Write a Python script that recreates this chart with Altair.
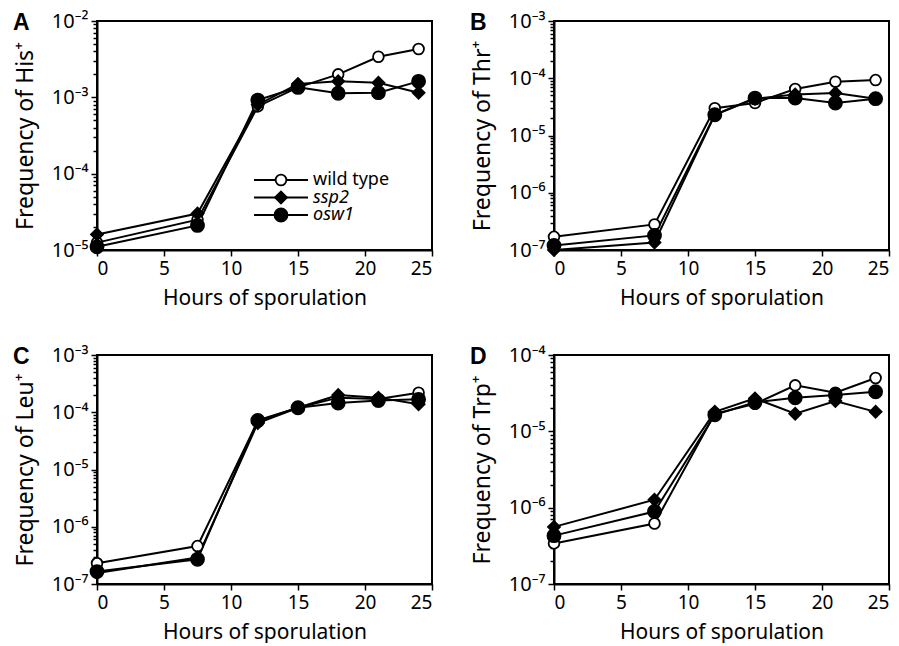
import altair as alt
import pandas as pd

hours = [0, 7.5, 12, 15, 18, 21, 24]
series_names = ["wild type", "ssp2", "osw1"]

# Panel A: His+
his_wt = [1.25e-5, 2.5e-5, 7.6e-4, 1.35e-3, 2.0e-3, 3.4e-3, 4.3e-3]
his_ssp2 = [1.6e-5, 3.0e-5, 8.0e-4, 1.5e-3, 1.62e-3, 1.55e-3, 1.15e-3]
his_osw1 = [1.1e-5, 2.1e-5, 9.2e-4, 1.35e-3, 1.13e-3, 1.15e-3, 1.62e-3]

# Panel B: Thr+
thr_wt = [1.7e-7, 2.8e-7, 3.0e-5, 3.7e-5, 6.5e-5, 8.7e-5, 9.3e-5]
thr_ssp2 = [1.0e-7, 1.35e-7, 2.3e-5, 4.4e-5, 5.2e-5, 5.5e-5, 4.4e-5]
thr_osw1 = [1.2e-7, 1.8e-7, 2.3e-5, 4.5e-5, 4.5e-5, 3.7e-5, 4.4e-5]

# Panel C: Leu+
leu_wt = [2.3e-7, 4.6e-7, 7.0e-5, 1.2e-4, 1.8e-4, 1.7e-4, 2.2e-4]
leu_ssp2 = [1.55e-7, 2.9e-7, 6.5e-5, 1.2e-4, 2.0e-4, 1.8e-4, 1.38e-4]
leu_osw1 = [1.65e-7, 2.7e-7, 7.2e-5, 1.2e-4, 1.45e-4, 1.6e-4, 1.68e-4]

# Panel D: Trp+
trp_wt = [3.4e-7, 6.2e-7, 1.7e-5, 2.3e-5, 4.0e-5, 3.2e-5, 5.0e-5]
trp_ssp2 = [5.6e-7, 1.27e-6, 1.8e-5, 2.7e-5, 1.7e-5, 2.5e-5, 1.8e-5]
trp_osw1 = [4.3e-7, 8.9e-7, 1.65e-5, 2.4e-5, 2.75e-5, 3.0e-5, 3.3e-5]

x_ticks = [0, 5, 10, 15, 20, 25]

FONT = "Noto Sans"
W, H = 335, 229

shape_scale = alt.Scale(domain=series_names, range=["circle", "diamond", "circle"])
fill_scale = alt.Scale(domain=series_names, range=["white", "black", "black"])
size_scale = alt.Scale(domain=series_names, range=[115, 170, 105])

SUP = "['⁰','¹','²','³','⁴','⁵','⁶','⁷','⁸','⁹']"
IS_DECADE = "abs(log(datum.value)/LN10 - round(log(datum.value)/LN10)) < 0.001"


def panel(letter, nutrient, wt, ssp2, osw1, lo_exp, hi_exp, with_legend=False):
    rows = []
    for name, vals in zip(series_names, [wt, ssp2, osw1]):
        for h, v in zip(hours, vals):
            rows.append({"hours": h, "freq": v, "series": name})
    df = pd.DataFrame(rows)

    y_vals = []
    for e in range(lo_exp, hi_exp + 1):
        for m in range(1, 10):
            if e == hi_exp and m > 1:
                break
            y_vals.append(m * 10.0 ** e)

    x_enc = alt.X(
        "hours:Q",
        scale=alt.Scale(domain=[0, 25], nice=False, zero=False),
        axis=alt.Axis(values=x_ticks, title="Hours of sporulation", tickSize=6,
                      labelPadding=3, titlePadding=9, labelFontSize=19,
                      titleFontSize=21),
    )
    y_enc = alt.Y(
        "freq:Q",
        scale=alt.Scale(type="log", domain=[10.0 ** lo_exp, 10.0 ** hi_exp], nice=False),
        axis=alt.Axis(
            values=y_vals,
            title=f"Frequency of {nutrient}⁺",
            labelExpr=f"{IS_DECADE} ? '10⁻' + {SUP}[abs(round(log(datum.value)/LN10))] : ''",
            labelOverlap=False,
            tickSize={"condition": {"test": IS_DECADE, "value": 6}, "value": 4},
            labelPadding=3,
            titlePadding=14,
            labelFontSize=20,
            titleFontSize=23,
        ),
    )

    base = alt.Chart(df)
    lines = base.mark_line(color="black", strokeWidth=2).encode(
        x=x_enc, y=y_enc, detail="series:N"
    )
    points = base.mark_point(filled=True, stroke="black", strokeWidth=1.8, opacity=1).encode(
        x=x_enc, y=y_enc,
        shape=alt.Shape("series:N", scale=shape_scale, legend=None),
        fill=alt.Fill("series:N", scale=fill_scale, legend=None),
        size=alt.Size("series:N", scale=size_scale, legend=None),
    )
    data_layer = alt.layer(lines, points)

    lab = alt.Chart(pd.DataFrame({"t": [letter]})).mark_text(
        align="left", baseline="middle", font="Liberation Sans", fontSize=23,
        fontWeight="bold", color="black",
    ).encode(text="t:N", x=alt.value(-84), y=alt.value(2))

    layers = [data_layer, lab]

    if with_legend:
        leg_df = pd.DataFrame({"series": series_names, "idx": list(range(len(series_names)))})
        leg = alt.Chart(leg_df).transform_calculate(ly="159 + datum.idx * 17.5")
        ly = alt.Y("ly:Q", scale=None, axis=None)
        leg_rule = leg.mark_rule(color="black", strokeWidth=2).encode(
            x=alt.value(157), x2=alt.value(211), y=ly
        )
        leg_pt = leg.mark_point(filled=True, stroke="black", strokeWidth=1.8, opacity=1).encode(
            x=alt.value(184), y=ly,
            shape=alt.Shape("series:N", scale=shape_scale, legend=None),
            fill=alt.Fill("series:N", scale=fill_scale, legend=None),
            size=alt.Size("series:N", scale=size_scale, legend=None),
        )
        leg_txt_n = leg.transform_filter("datum.idx == 0").mark_text(
            align="left", baseline="middle", font=FONT, fontSize=18, color="black"
        ).encode(x=alt.value(216), y=ly, text="series:N")
        leg_txt_i = leg.transform_filter("datum.idx > 0").mark_text(
            align="left", baseline="middle", font=FONT, fontSize=18, fontStyle="italic",
            color="black"
        ).encode(x=alt.value(216), y=ly, text="series:N")
        layers += [leg_rule, leg_pt, leg_txt_n, leg_txt_i]

    return alt.layer(*layers).resolve_scale(y="independent", x="independent").properties(
        width=W, height=H
    )


pA = panel("A", "His", his_wt, his_ssp2, his_osw1, -5, -2, with_legend=True)
pB = panel("B", "Thr", thr_wt, thr_ssp2, thr_osw1, -7, -3)
pC = panel("C", "Leu", leu_wt, leu_ssp2, leu_osw1, -7, -3)
pD = panel("D", "Trp", trp_wt, trp_ssp2, trp_osw1, -7, -4)

row1 = alt.hconcat(pA, pB, spacing=35)
row2 = alt.hconcat(pC, pD, spacing=35)

chart = alt.vconcat(row1, row2, spacing=35).properties(
    padding={"left": 4, "top": 2, "right": 0, "bottom": 0},
    background="white",
).configure_view(
    stroke="black", strokeWidth=2
).configure_axis(
    domainColor="black", domainWidth=2, tickColor="black", tickWidth=1.5,
    labelFont=FONT, labelColor="black",
    titleFont=FONT, titleFontWeight="normal", titleColor="black",
    grid=False,
)

chart.save("out.html", embed_options={"renderer": "svg", "actions": False})
